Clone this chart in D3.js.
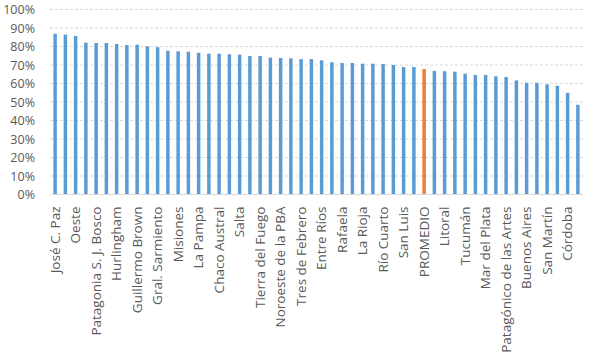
<!DOCTYPE html>
<html><head><meta charset="utf-8">
<script src="https://cdn.jsdelivr.net/npm/d3@7"></script>
<style>body{margin:0;background:#fff;} svg{display:block;}</style>
</head><body>
<svg id="c" width="589" height="353"></svg>
<script>
// Category labels (only every other bar is labelled in the reference; "" = unlabelled bar)
const labels = ["José C. Paz","","Oeste","","Patagonia S. J. Bosco","","Hurlingham","","Guillermo Brown","",
  "Gral. Sarmiento","","Misiones","","La Pampa","","Chaco Austral","","Salta","",
  "Tierra del Fuego","","Noroeste de la PBA","","Tres de Febrero","","Entre Ríos","","Rafaela","",
  "La Rioja","","Río Cuarto","","San Luis","","PROMEDIO","","Litoral","",
  "Tucumán","","Mar del Plata","","Patagónico de las Artes","","Buenos Aires","","San Martín","",
  "Córdoba",""];
const values = [86.9,86.4,85.7,82.1,81.9,81.9,81.4,80.8,81.0,80.1,
  79.6,77.7,77.4,77.2,76.6,76.1,76.1,75.8,75.6,74.9,
  74.9,74.0,73.8,73.6,73.2,73.2,72.5,71.5,71.1,71.1,
  70.7,70.7,70.5,70.0,68.9,68.9,67.8,66.8,66.6,66.4,
  65.3,64.6,64.6,63.9,63.5,61.7,60.4,60.4,59.5,58.8,
  54.9,48.5];
const highlight = "PROMEDIO";
const yTicks = [0,10,20,30,40,50,60,70,80,90,100];

const svg = d3.select("#c");
const m = {left:50, right:6, top:9.5, bottom:158.5};
const W = 589, H = 353;
const font = "'Open Sans', sans-serif";
const idx = d3.range(values.length);
const x = d3.scaleBand().domain(idx).range([m.left, W - m.right]).paddingInner(0.66).paddingOuter(0.33);
const y = d3.scaleLinear().domain([0,100]).range([H - m.bottom, m.top]);

// gridlines
svg.append("g").selectAll("line").data(yTicks.filter(d=>d>0)).join("line")
  .attr("x1", m.left).attr("x2", W - m.right)
  .attr("y1", d=>y(d)).attr("y2", d=>y(d))
  .attr("stroke","#d9d9d9").attr("stroke-width",1).attr("stroke-dasharray","3,2");

// bars
svg.append("g").selectAll("rect").data(idx).join("rect")
  .attr("x", i=>x(i)).attr("width", x.bandwidth())
  .attr("y", i=>y(values[i])).attr("height", i=>y(0)-y(values[i]))
  .attr("fill", i=>labels[i]===highlight ? "#ed7d31" : "#5b9bd5");

// baseline
svg.append("line").attr("x1", m.left).attr("x2", W - m.right)
  .attr("y1", y(0)).attr("y2", y(0)).attr("stroke","#d9d9d9").attr("stroke-width",1);

// y axis
const ya = svg.append("g").attr("transform",`translate(${m.left},0)`)
  .call(d3.axisLeft(y).tickValues(yTicks).tickFormat(d=>d+"%").tickSize(0).tickPadding(15));
ya.select(".domain").remove();
ya.selectAll("text").attr("fill","#595959").style("font-family",font).style("font-size","12.5px");

// x axis
const xa = svg.append("g").attr("transform",`translate(0,${y(0)})`)
  .call(d3.axisBottom(x).tickFormat(i=>labels[i]).tickSize(0));
xa.select(".domain").remove();
xa.selectAll("text")
  .attr("fill","#595959").style("font-family",font).style("font-size","13.5px")
  .attr("transform","rotate(-90)").attr("text-anchor","end")
  .attr("x",-12).attr("y",0).attr("dy","0.35em");
</script>
</body></html>
